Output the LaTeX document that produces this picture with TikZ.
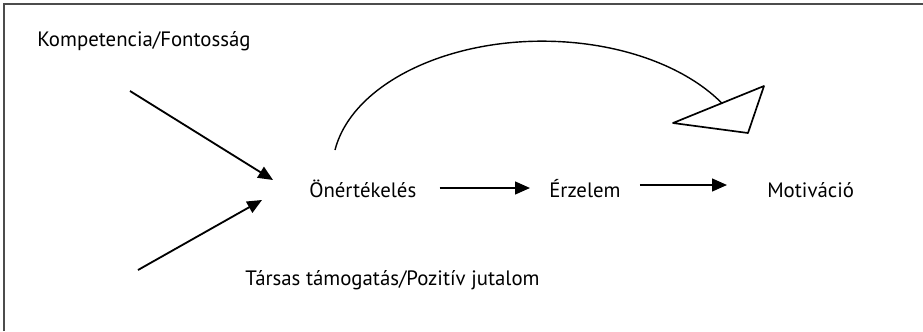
\documentclass[tikz,border=0pt]{standalone}
\usepackage{fontspec}
\setmainfont{PT Sans}
\usetikzlibrary{arrows.meta,positioning,calc}

\begin{document}
\begin{tikzpicture}[x=0.025cm,y=-0.025cm,font=\fontsize{14.8}{17}\selectfont,
   lbl/.style={inner sep=0pt,anchor=base west},
   arr/.style={-{Triangle[length=10.5pt,width=9pt]},line width=1.3pt}]
  \useasboundingbox (0,0) rectangle (923,331);
  \draw[line width=1.6pt,black!70] (4,331) -- (4,4) -- (923,4);
  % labels
  \node[lbl] (komp) at (37,46) {Kompetencia/Fontosság};
  \node[lbl] (oe) at (309,197) {Önértékelés};
  \node[lbl] (erz) at (549,197) {Érzelem};
  \node[lbl] (mot) at (767,197) {Motiváció};
  \node[lbl] (tars) at (245,285) {Társas támogatás/Pozitív jutalom};
  % free ends of the side arrows
  \coordinate (k1) at (130,91); \coordinate (k2) at (273,180);
  \coordinate (t1) at (138,270); \coordinate (t2) at (262,200);
  \draw[arr] (k1) -- (k2);
  \draw[arr] (t1) -- (t2);
  \draw[arr] ($(oe.base east)+(23,-9)$) -- ($(erz.base west)+(-19,-9)$);
  \draw[arr] ($(erz.base east)+(19,-12)$) -- ($(mot.base west)+(-40,-12)$);
  % feedback loop with open head
  \coordinate (fb1) at (335,150);
  \draw[line width=1pt] (fb1) arc[start angle=189,end angle=329,x radius=210,y radius=129] coordinate (fb2);
  \draw[line width=1.2pt,line join=round] (673,123) -- (764,86) -- (748,133) -- cycle;
\end{tikzpicture}
\end{document}
